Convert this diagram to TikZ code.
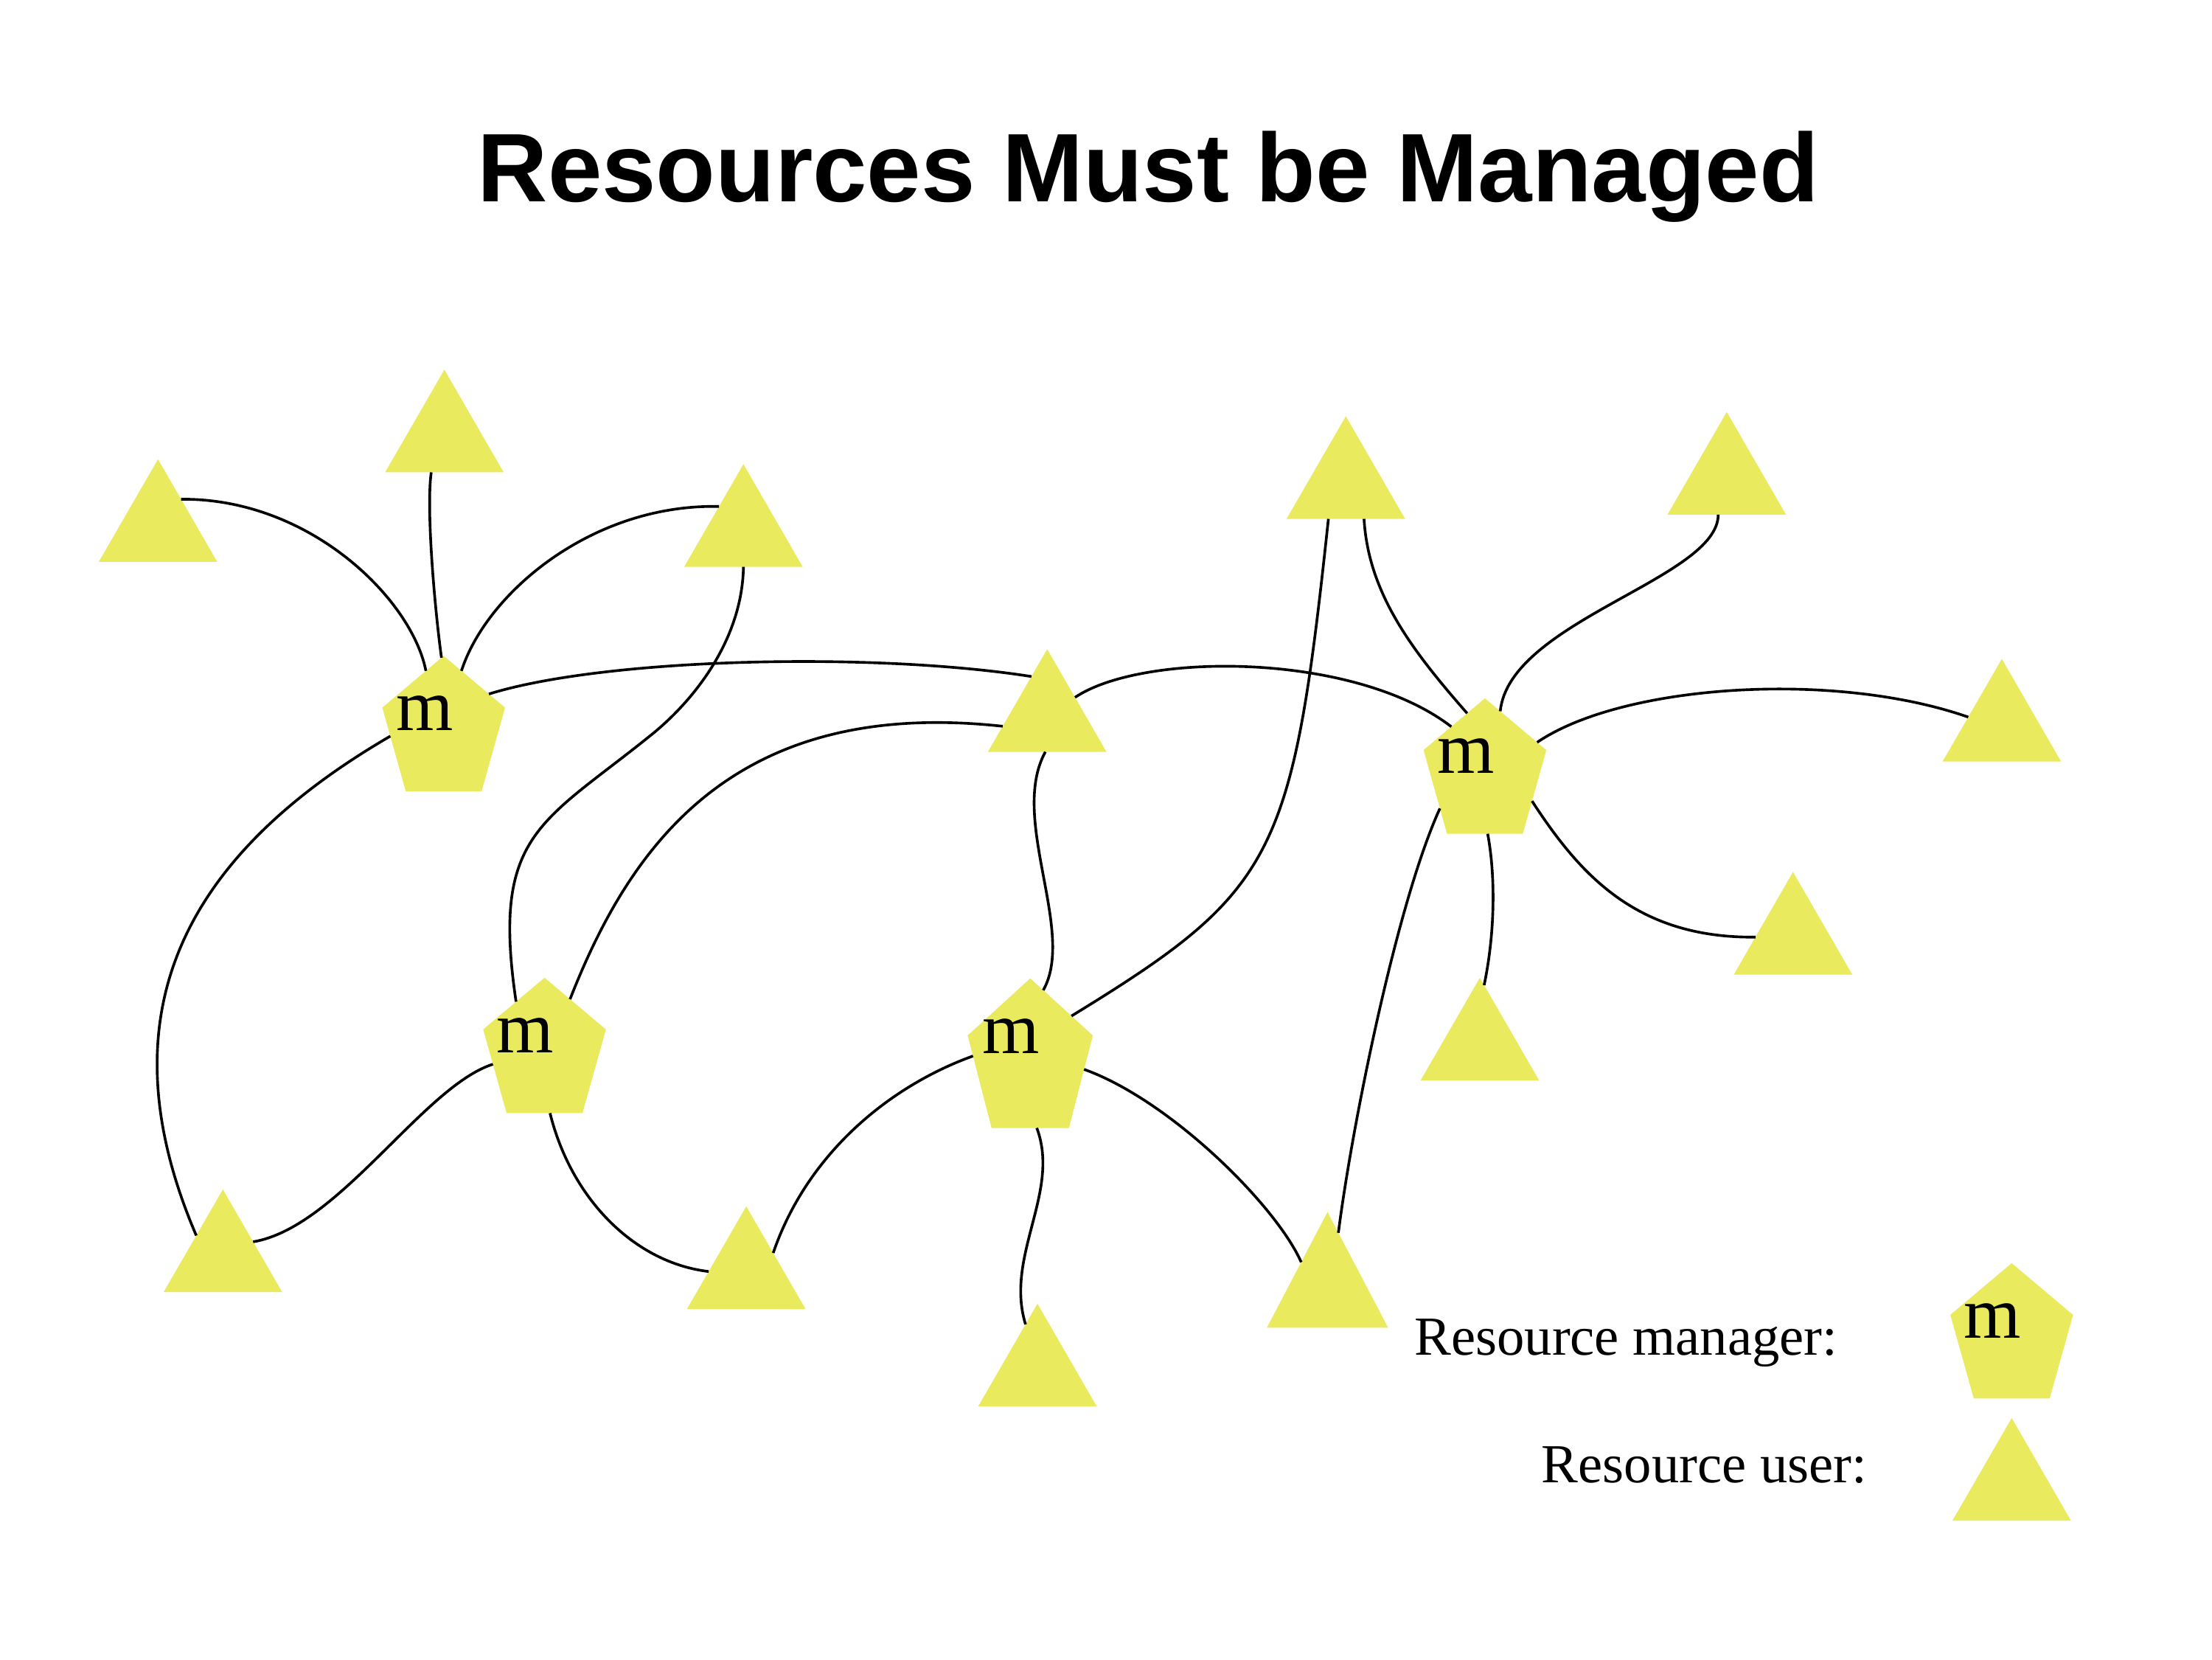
\documentclass[tikz,border=0pt]{standalone}
\usepackage{fontspec}
\setmainfont{Liberation Serif}
\newfontfamily\titlefont{Liberation Sans}
\usetikzlibrary{shapes.geometric}
\definecolor{uyel}{RGB}{233,234,94}
\begin{document}
\begin{tikzpicture}[x=1pt,y=-1pt,
  user/.style={regular polygon, regular polygon sides=3, minimum size=97pt, inner sep=0pt, outer sep=0pt, fill=uyel},
  mgrbase/.style={regular polygon, regular polygon sides=5, minimum size=106.1pt, inner sep=0pt, outer sep=0pt, fill=uyel},
  mgr/.style={mgrbase, xscale=0.862},
  mtext/.style={anchor=base west, inner sep=0pt, font=\fontsize{52}{60}\selectfont, xshift=-34pt, yshift=-53pt},
  link/.style={line width=1.9pt, black},
  legend/.style={anchor=base west, inner sep=0pt, font=\fontsize{39}{46}\selectfont}]
\fill[white] (0,0) rectangle (1568,1176);
\useasboundingbox (0,0) rectangle (1568,1176);

\node[font=\titlefont\bfseries\fontsize{69}{80}\selectfont, anchor=base, inner sep=0pt] (title) at (814,143) {Resources Must be Managed};

% managers
\node[mgr] (P1) at (314.5,517.9) {};
\node[mgr] (P2) at (1052.6,548) {};
\node[mgr] (P3) at (386,746) {};
\node[mgrbase, xscale=0.879, yscale=1.105] (P4) at (730.3,752) {};

% users
\node[user] (T1) at (112,374) {};
\node[user] (T2) at (315,310.5) {};
\node[user] (T3) at (527,377.5) {};
\node[user] (T4) at (954,343.5) {};
\node[user] (T5) at (1224,340.5) {};
\node[user] (T6) at (742.3,508.6) {};
\node[user] (T7) at (1419,515.5) {};
\node[user] (T8) at (1271,666.5) {};
\node[user] (T9) at (1049,741.5) {};
\node[user] (T10) at (158,891.5) {};
\node[user] (T11) at (529,903.5) {};
\node[user, minimum size=99.3pt, yscale=1.101] (T12) at (941,913.7) {};
\node[user] (T13) at (735.4,972.5) {};

% connectors
\draw[link] (T1.51) .. controls (220,353) and (292,425) .. (P1.109);
\draw[link] (T2.249) .. controls (302,360) and (308,430) .. (P1.92);
\draw[link] (P1.71) .. controls (345,420) and (420,357) .. (T3.133);
\draw[link] (P1.35) .. controls (430,466) and (620,462) .. (T6.111);
\draw[link] (P1.185) .. controls (130,607) and (72,719) .. (T10.140);
\draw[link] (T3.270) .. controls (526.1,452.7) and (492.9,495.6) .. (461.7,520.8) .. controls (383.7,583.8) and (348.1,590.7) .. (P3.123);
\draw[link] (P3.61) .. controls (447.4,597.4) and (521.6,494.1) .. (T6.191);
\draw[link] (P3.191) .. controls (300,770) and (240,870) .. (T10.28);
\draw[link] (P3.276) .. controls (405,850) and (450,895) .. (T11.175);
\draw[link] (T6.267) .. controls (715,580) and (763,660) .. (P4.77);
\draw[link] (T4.243) .. controls (916,608) and (905,631) .. (P4.41);
\draw[link] (P4.176) .. controls (630,770) and (572,818) .. (T11.39);
\draw[link] (P4.277) .. controls (752,845) and (712,890) .. (T13.104);
\draw[link] (P4.353) .. controls (830,780) and (905,855) .. (T12.137);
\draw[link] (T4.298) .. controls (970,420) and (1000,460) .. (P2.109);
\draw[link] (P2.74) .. controls (1070,440) and (1218,410) .. (T5.256);
\draw[link] (P2.27) .. controls (1150,485) and (1300,475) .. (T7.163);
\draw[link] (P2.333) .. controls (1120,620) and (1160,665) .. (T8.175);
\draw[link] (P2.273) .. controls (1060,620) and (1060,660) .. (T9.86);
\draw[link] (P2.214) .. controls (990,640) and (958,800) .. (T12.78);
\draw[link] (T6.36) .. controls (810,462) and (960,462) .. (P2.130);

% m labels
\node[mtext] (m1) at (P1.corner 1) {m};
\node[mtext] (m2) at (P2.corner 1) {m};
\node[mtext] (m3) at (P3.corner 1) {m};
\node[mtext] (m4) at (P4.corner 1) {m};

% legend
\node[legend] (lm) at (1002.5,960.6) {Resource manager:};
\node[legend] (lu) at (1092.6,1050.6) {Resource user:};
\node[mgr] (PL) at (1426,948.3) {};
\node[mtext] (mL) at (PL.corner 1) {m};
\node[user] (TL) at (1426,1053.5) {};
\end{tikzpicture}
\end{document}
